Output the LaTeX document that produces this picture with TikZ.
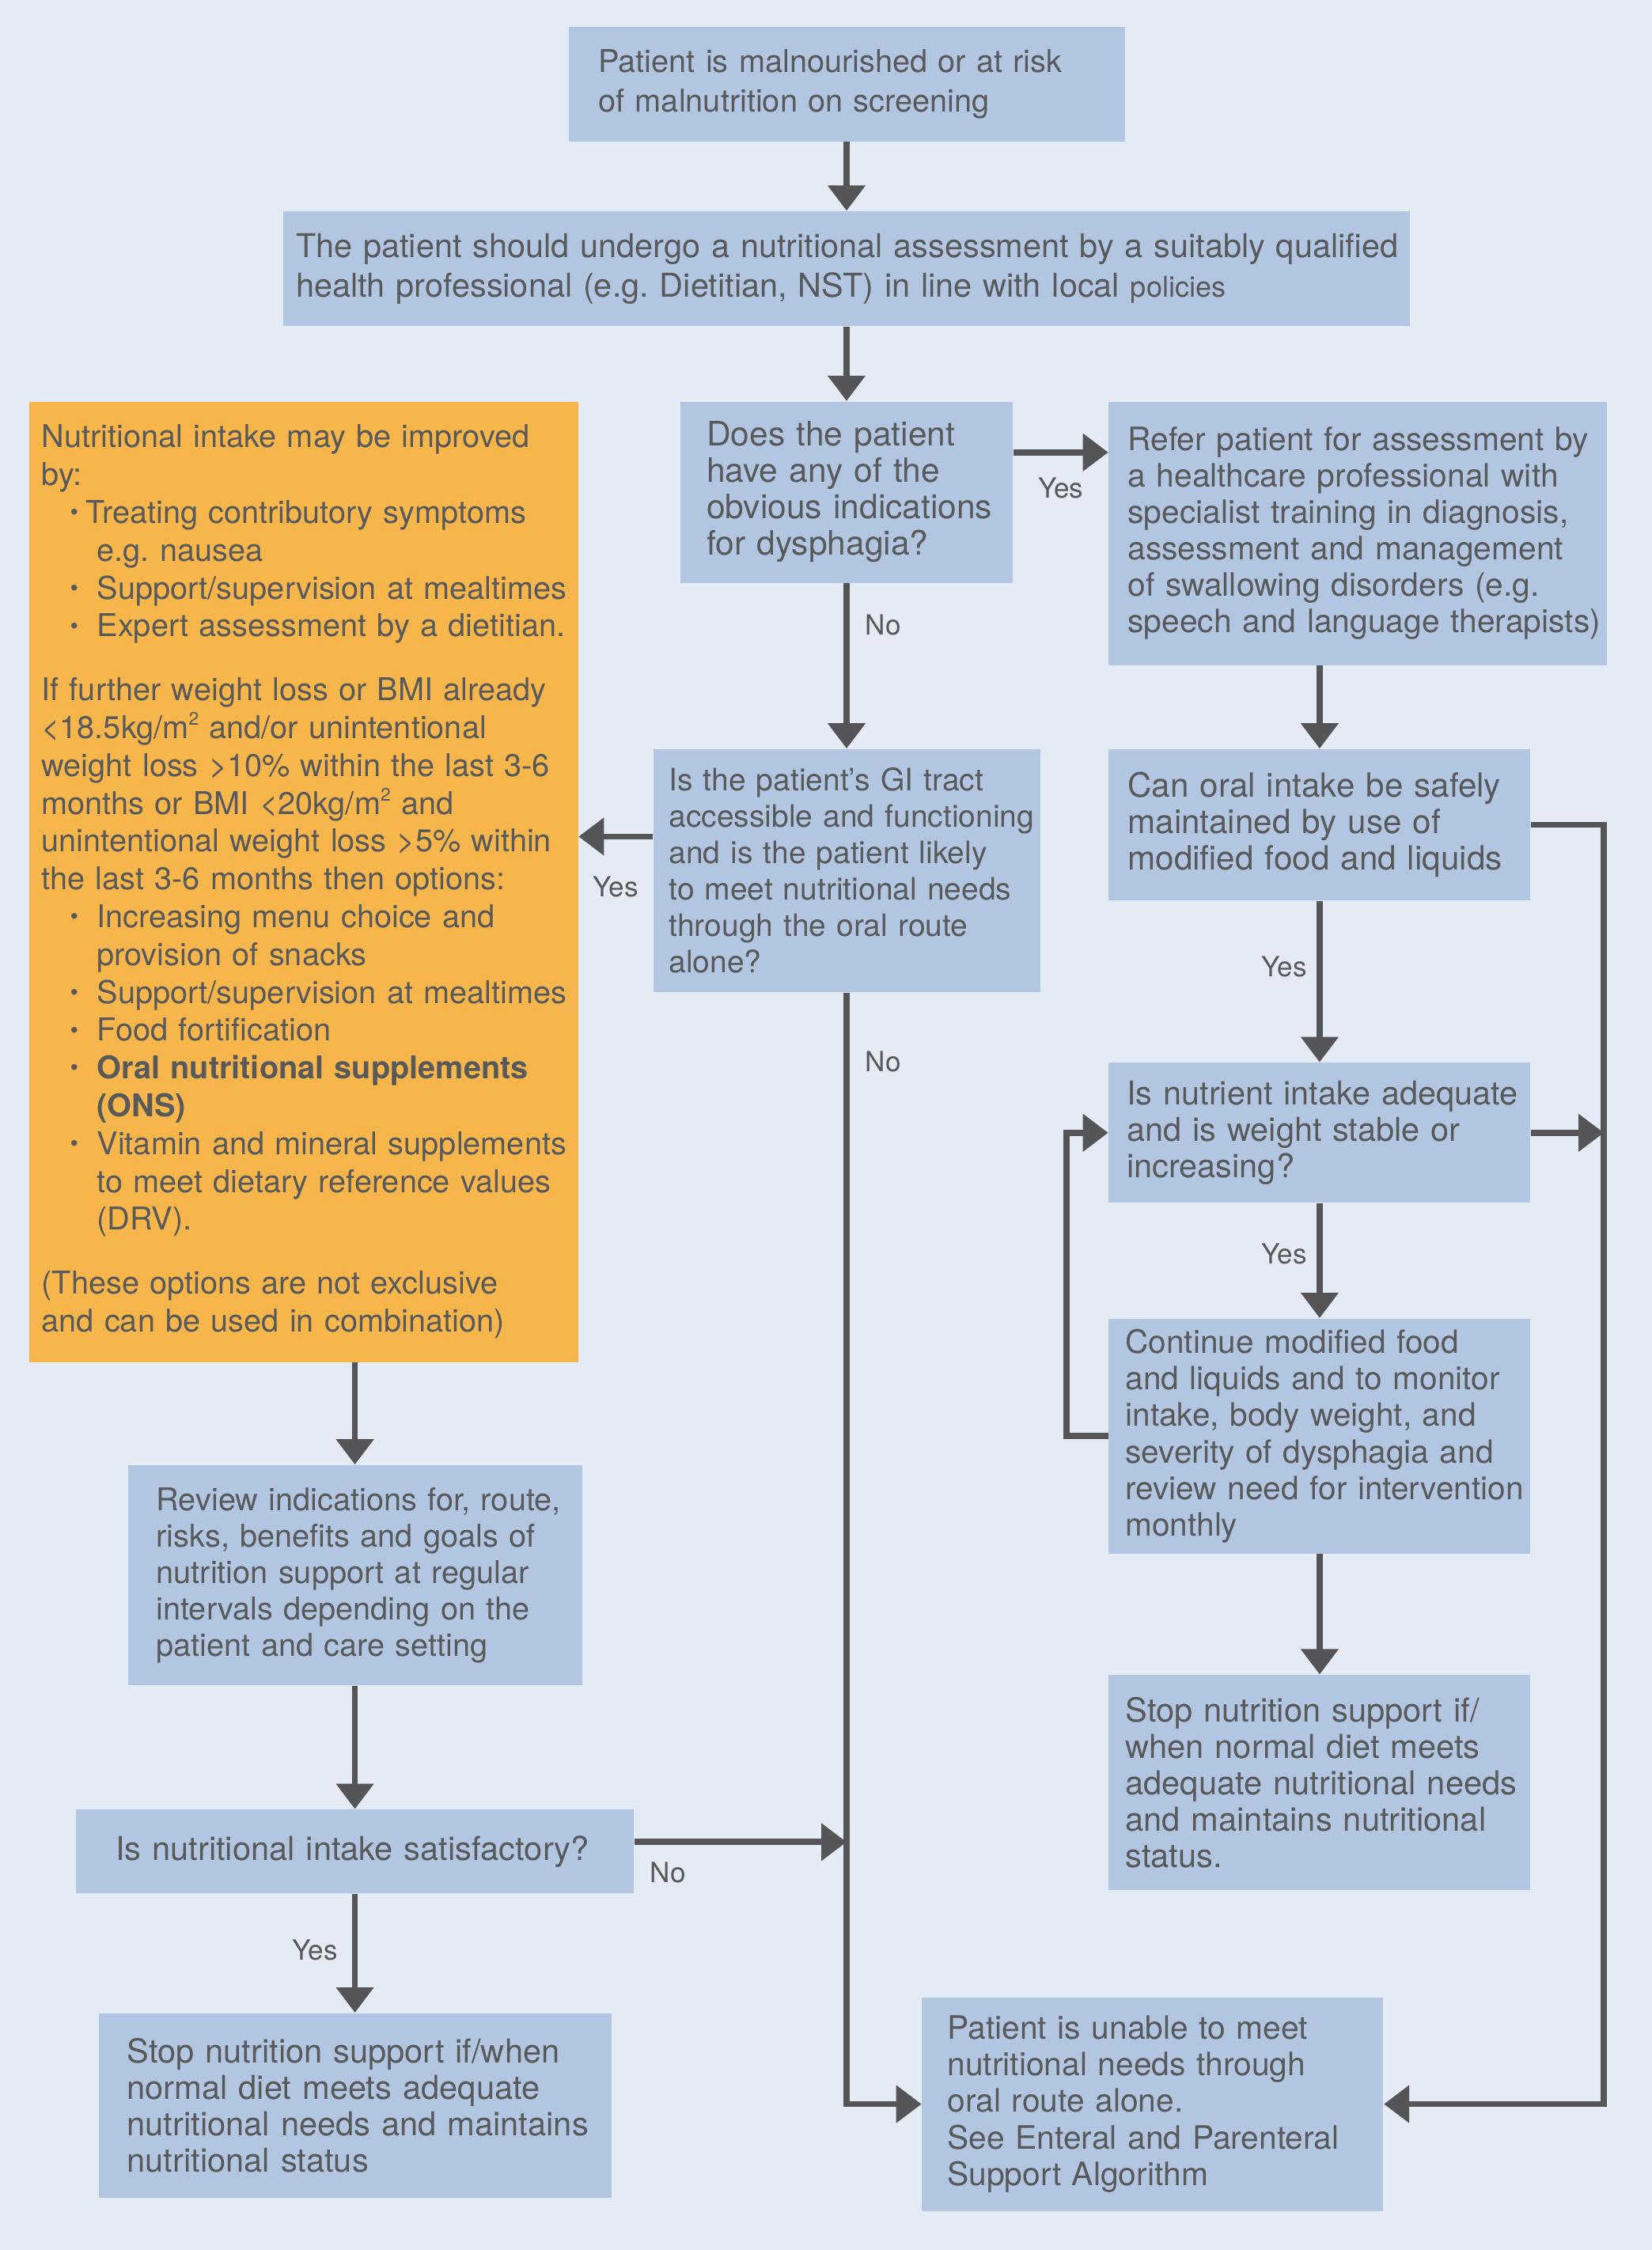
\documentclass[tikz,border=0pt]{standalone}
\usepackage{fontspec}
\setmainfont{TeX Gyre Heros}
\usepackage{tikz}
\usetikzlibrary{positioning, arrows.meta}

\definecolor{bgblue}{HTML}{E4EBF5}
\definecolor{boxblue}{HTML}{B3C6E1}
\definecolor{noteorange}{HTML}{F6B64B}
\definecolor{txtgray}{HTML}{58595B}
\definecolor{linegray}{HTML}{555558}

\frenchspacing
\newcommand{\bdot}{{\fontsize{8.5}{8.5}\selectfont\raisebox{0.25ex}{\textbullet}}}
\newcommand{\bul}{\hspace*{0.36cm}\makebox[0.34cm][l]{\bdot}}
\newcommand{\bulin}{\hspace*{0.70cm}}
\newcommand{\sqm}{m\raisebox{0.8ex}{\fontsize{6.5}{6.5}\selectfont 2}}

\tikzset{
  flowbox/.style n args={3}{fill=boxblue, text=txtgray, align=left, inner sep=0pt,
    text width=#1, minimum height=#2, font=\fontsize{11.3}{13.1}\selectfont,
    execute at begin node={\selectfont\leftskip=#3\relax}},
  notebox/.style n args={3}{flowbox={#1}{#2}{#3}, fill=noteorange,
    font=\fontsize{11.3}{13.6}\selectfont},
  fsz/.style={font=\fontsize{#1}{13.1}\selectfont},
  arr/.style={draw=linegray, line width=2.2pt, -{Triangle[width=4.6mm, length=3.2mm]}},
  lbl/.style={inner sep=0pt, text=txtgray, font=\fontsize{10}{12}\selectfont},
}

\begin{document}
\begin{tikzpicture}
	\path[use as bounding box, fill=bgblue] (0,0) rectangle (20.88,-28.44);

	% centre column
	\node[flowbox={7.03cm}{1.45cm}{0.38cm}, font=\fontsize{11.3}{14.2}\selectfont, anchor=north] (start) at (10.70,-0.33)
		{Patient is malnourished or at risk\\of malnutrition on screening};
	\node[flowbox={14.24cm}{1.45cm}{0.16cm}, font=\fontsize{11.8}{14.2}\selectfont, below=0.87cm of start] (assess)
		{The patient should undergo a nutritional assessment by a suitably qualified\\health professional (e.g. Dietitian, NST) in line with local {\fontsize{10.3}{14.2}\selectfont policies}};
	\node[flowbox={4.20cm}{2.29cm}{0.33cm}, fsz=12.1, below=0.94cm of assess] (dysph)
		{Does the patient\\have any of the\\obvious indications\\for dysphagia?};
	\node[flowbox={4.89cm}{3.07cm}{0.20cm}, fsz=11.1, below=2.09cm of dysph] (gitract)
		{Is the patient’s GI tract\\accessible and functioning\\and is the patient likely\\to meet nutritional needs\\through the oral route\\alone?};

	% right column
	\node[flowbox={6.30cm}{3.33cm}{0.24cm}, fsz=11.6, right=1.20cm of dysph.north east, anchor=north west] (refer)
		{Refer patient for assessment by\\a healthcare professional with\\specialist training in diagnosis,\\assessment and management\\of swallowing disorders (e.g.\\speech and language therapists)};
	\node[flowbox={5.33cm}{1.91cm}{0.24cm}, fsz=12.0, below=1.05cm of refer.south west, anchor=north west] (oral)
		{Can oral intake be safely\\maintained by use of\\modified food and liquids};
	\node[flowbox={5.33cm}{1.77cm}{0.23cm}, fsz=11.8, below=2.04cm of oral.south west, anchor=north west] (adequate)
		{Is nutrient intake adequate\\and is weight stable or\\increasing?};
	\node[flowbox={5.33cm}{2.97cm}{0.21cm}, fsz=11.55, below=1.45cm of adequate.south west, anchor=north west] (cont)
		{Continue modified food\\and liquids and to monitor\\intake, body weight, and\\severity of dysphagia and\\review need for intervention\\monthly};
	\node[flowbox={5.33cm}{2.72cm}{0.21cm}, fsz=11.85, below=1.52cm of cont.south west, anchor=north west] (stopR)
		{Stop nutrition support if/\\when normal diet meets\\adequate nutritional needs\\and maintains nutritional\\status.};

	% left column
	\node[notebox={6.94cm}{12.14cm}{0.16cm}, left=1.28cm of dysph.north west, anchor=north east] (improve)
		{Nutritional intake may be improved\\
		by:\\
		\hspace*{0.36cm}\makebox[0.20cm][l]{\bdot}Treating contributory symptoms\\
		\bulin e.g. nausea\\
		\bul Support/supervision at mealtimes\\
		\bul Expert assessment by a dietitian.\\[3.3mm]
		If further weight loss or BMI already\\
		<18.5kg/\sqm{} and/or unintentional\\
		weight loss >10\% within the last 3-6\\
		months or BMI <20kg/\sqm{} and\\
		unintentional weight loss >5\% within\\
		the last 3-6 months then options:\\
		\bul Increasing menu choice and\\
		\bulin provision of snacks\\
		\bul Support/supervision at mealtimes\\
		\bul Food fortification\\
		\bul {\bfseries Oral nutritional supplements}\\
		\bulin {\bfseries (ONS)}\\
		\bul Vitamin and mineral supplements\\
		\bulin to meet dietary reference values\\
		\bulin (DRV).\\[3.3mm]
		(These options are not exclusive\\
		and can be used in combination)};
	\node[flowbox={5.74cm}{2.78cm}{0.36cm}, below right=1.29cm and 1.25cm of improve.south west] (review)
		{Review indications for, route,\\risks, benefits and goals of\\nutrition support at regular\\intervals depending on the\\patient and care setting};
	\node[flowbox={7.05cm}{1.06cm}{0.50cm}, fsz=11.85, below=1.56cm of review] (satisf)
		{Is nutritional intake satisfactory?};
	\node[flowbox={6.48cm}{2.33cm}{0.36cm}, fsz=11.85, below=1.50cm of satisf] (stopL)
		{Stop nutrition support if/when\\normal diet meets adequate\\nutritional needs and maintains\\nutritional status};

	% bottom
	\node[flowbox={5.83cm}{2.70cm}{0.32cm}, fsz=11.6, below left=1.34cm and 2.36cm of stopR.south west, anchor=north west] (unable)
		{Patient is unable to meet\\nutritional needs through\\oral route alone.\\See Enteral and Parenteral\\Support Algorithm};

	\coordinate (rtrunk) at ([xshift=0.92cm]oral.east);

	\draw[arr] (start) -- (assess);
	\draw[arr] (assess) -- (dysph);
	\draw[arr] ([yshift=-6.5mm]dysph.north east) -- node[below=2.8mm, lbl] {Yes} ([yshift=-6.5mm]refer.north west);
	\draw[arr] (dysph) -- node[pos=0.25, right=2mm, lbl] {No} (gitract);
	\draw[arr] ([yshift=4.3mm]gitract.west) -- node[below=4.7mm, lbl] {Yes} ([yshift=4.3mm]gitract.west -| improve.east);
	\draw[arr] (refer.south -| oral.north) -- (oral);
	\draw[arr] (oral) -- node[pos=0.41, left=1.2mm, lbl] {Yes} (adequate);
	\draw[arr] (adequate) -- node[pos=0.44, left=1.2mm, lbl] {Yes} (cont);
	\draw[arr] (cont) -- (stopR);
	\draw[arr] (cont.west) -- ++(-0.53,0) |- (adequate.west);
	\draw[arr] (oral.east) -- (rtrunk) |- (unable.east);
	\draw[arr] (adequate.east) -- (adequate.east -| rtrunk);
	\draw[arr] (improve.south -| review.north) -- (review);
	\draw[arr] (review) -- (satisf);
	\draw[arr] (satisf) -- node[pos=0.47, left=1.8mm, lbl] {Yes} (stopL);
	\draw[arr] ([yshift=1.2mm]satisf.east) node[below right=2.2mm and 1.6mm, lbl] {No} -- ([yshift=1.2mm]satisf.east -| gitract.south);
	\draw[arr] (gitract) |- node[pos=0.031, right=2mm, lbl] {No} (unable);

\end{tikzpicture}
\end{document}
